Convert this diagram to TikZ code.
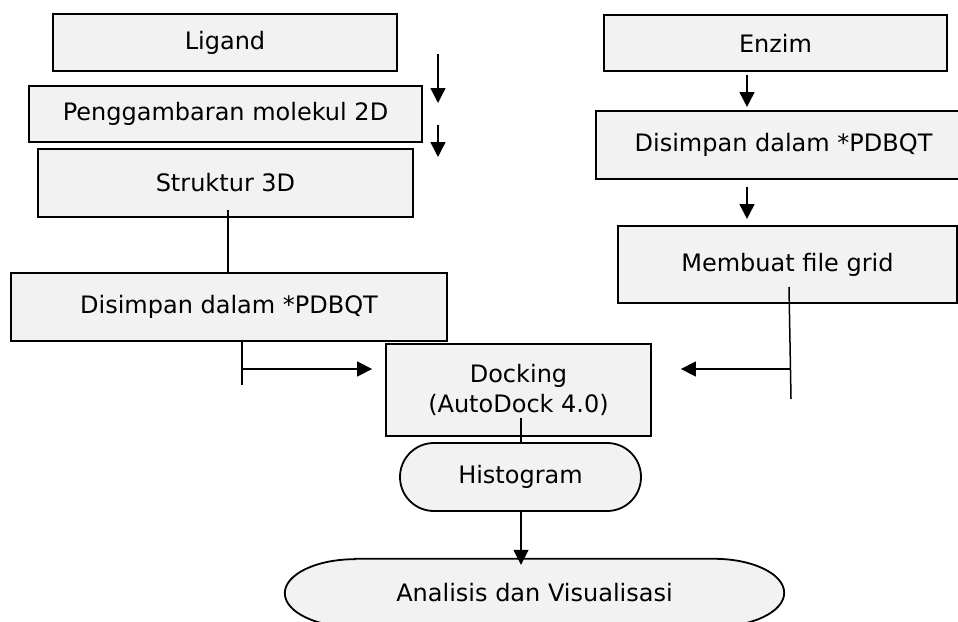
\documentclass[tikz,border=0pt]{standalone}
\usepackage{fontspec}
\setmainfont{DejaVu Sans}
\usetikzlibrary{arrows.meta,backgrounds}
\definecolor{boxgray}{HTML}{F2F2F2}
\begin{document}
\begin{tikzpicture}[x=1pt,y=-1pt,
  box/.style={draw=black, fill=boxgray, line width=1.8pt, inner sep=0pt, align=center,
    font=\fontsize{24}{30}\selectfont},
  txt/.style={inner sep=0pt, align=center, font=\fontsize{24}{30}\selectfont},
  conn/.style={line width=1.5pt},
  arr/.style={conn, -{Triangle[length=15pt,width=15pt]}}]
\useasboundingbox (0,0) rectangle (958,621);
\clip (0,0) rectangle (958,621);
% left column
\node[box, minimum width=344pt, minimum height=57pt] (lig) at (225,42.5) {Ligand};
\node[box, minimum width=393pt, minimum height=56pt] (peng) at (225.5,114) {Penggambaran molekul 2D};
\node[box, minimum width=375pt, minimum height=68pt] (str) at (225.5,183) {Struktur 3D};
\node[box, minimum width=436pt, minimum height=68pt] (pdl) at (229,307) {Disimpan dalam *PDBQT};
% right column
\node[box, minimum width=343pt, minimum height=56pt] (enz) at (775.5,43) {Enzim};
\node[box, minimum width=375pt, minimum height=68pt] (pdr) at (783.5,145) {Disimpan dalam *PDBQT};
\node[box, minimum width=339pt, minimum height=77pt] (mfg) at (787.5,264.5) {Membuat file grid};
% centre
\node[box, minimum width=265pt, minimum height=92pt] (dock) at (518.5,390) {Docking\\(AutoDock 4.0)};
\node[box, minimum width=241pt, minimum height=68pt, rounded corners=33.9pt] (hist) at (520.5,477) {Histogram};
\node[txt, minimum width=499pt, minimum height=68pt] (ana) at (534.5,593) {Analisis dan Visualisasi};
\begin{scope}[on background layer]
\draw[line width=1.8pt, fill=boxgray]
  ([xshift=70pt]ana.north west) -- ([xshift=-70pt]ana.north east)
  arc[start angle=90, end angle=-90, x radius=70pt, y radius=34pt]
  -- ([xshift=70pt]ana.south west)
  arc[start angle=270, end angle=90, x radius=70pt, y radius=34pt] -- cycle;
\end{scope}
% left arrows
\coordinate (a1s) at (438,54);
\coordinate (a1e) at (438,103);
\coordinate (a2s) at (438,125);
\coordinate (a2e) at (438,157);
\draw[arr] (a1s) -- (a1e);
\draw[arr] (a2s) -- (a2e);
\coordinate (s1) at (228,210);
\draw[conn] (s1) -- (s1 |- pdl.north);
\coordinate (s2) at (242,385);
\coordinate (s2m) at (242,369);
\draw[conn] (pdl.south -| s2) -- (s2);
\draw[arr] (s2m) -- ([xshift=-13pt]dock.west |- s2m);
% right arrows
\coordinate (b1s) at (747,75);
\coordinate (b1e) at (747,107);
\coordinate (b2s) at (747,187);
\coordinate (b2e) at (747,219);
\draw[arr] (b1s) -- (b1e);
\draw[arr] (b2s) -- (b2e);
\coordinate (r1) at (789,287);
\coordinate (r2) at (791,399);
\coordinate (rm) at (790,369);
\draw[conn] (r1) -- (r2);
\draw[arr] (rm) -- ([xshift=29pt]dock.east |- rm);
% bottom
\coordinate (d1) at (521,418);
\draw[conn] (d1) -- (d1 |- hist.north);
\draw[arr] (hist.south -| d1) -- ([yshift=-6pt]ana.north -| d1);
\end{tikzpicture}
\end{document}
